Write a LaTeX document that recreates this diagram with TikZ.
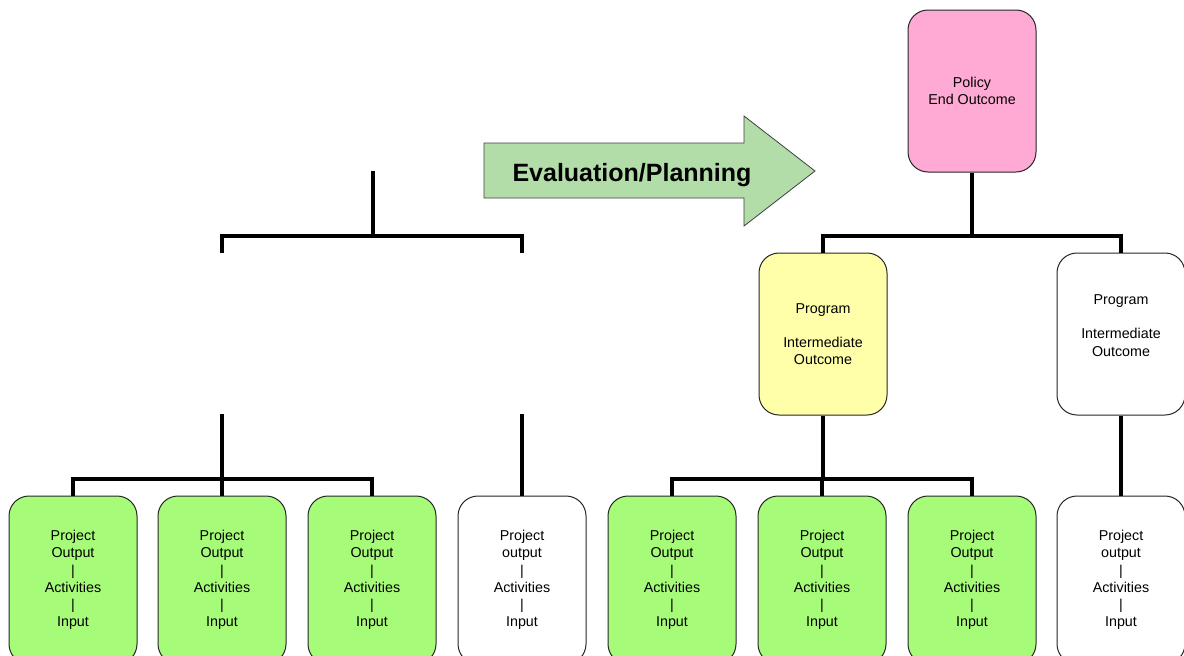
\documentclass[tikz,border=0pt]{standalone}
\usepackage{fontspec}
\setmainfont{Liberation Sans}
\definecolor{polpink}{RGB}{255,170,212}
\definecolor{progyellow}{RGB}{255,255,170}
\definecolor{projgreen}{RGB}{166,252,120}
\definecolor{evalgreen}{RGB}{178,221,168}
\begin{document}
\begin{tikzpicture}[x=1pt,y=-1pt]
        \tikzset{box/.style={draw=black!85,line width=1pt,rounded corners=20pt,
            minimum width=128pt,minimum height=162pt,align=center,
            font=\fontsize{14.3}{17.2}\selectfont},
          link/.style={line width=3.5pt},
          evalarrow/.style={draw=black!75,line width=0.8pt,fill=evalgreen}}
        \useasboundingbox (0,0) rectangle (1184,656);
        \draw[evalarrow] (484,143) -- (744,143) -- (744,116) -- (815,171)
          -- (744,226) -- (744,198) -- (484,198) -- cycle;
        \node[font=\fontsize{25}{30}\bfseries] (eval) at (632,175) {Evaluation/Planning};
        \node[box,fill=polpink] (pol) at (972,91) {Policy\\End Outcome};
        \node[box,fill=progyellow] (prog1) at (823,334) {Program\\\mbox{}\\Intermediate\\Outcome};
        \node[box,fill=white] (prog2) at (1121,334) {Program\\\mbox{}\\Intermediate\\Outcome\\\mbox{}};
        \foreach \i/\x/\c/\o in {1/73/projgreen/Output,2/222/projgreen/Output,
            3/372/projgreen/Output,4/522/white/output,5/672/projgreen/Output,
            6/822/projgreen/Output,7/972/projgreen/Output,8/1121/white/output}
          \node[box,fill=\c,minimum height=168pt] (p\i) at (\x,580) {Project\\\o\\|\\Activities\\|\\Input};
        \coordinate (g0) at (373,171);
        \coordinate (g1) at (222,253);
        \coordinate (g2) at (522,253);
        \coordinate (g3) at (222,414);
        \coordinate (g4) at (522,414);
        \draw[link] (g1) -- (g1|-0,236) -- (g2|-0,236) -- (g2);
        \draw[link] (g0) -- (g0|-0,236);
        \draw[link] (p1.north) -- (p1.north|-0,479) -- (p3.north|-0,479) -- (p3.north);
        \draw[link] (g3) -- (g3|-0,479) (p2.north) -- (p2.north|-0,479);
        \draw[link] (g4) -- (p4.north);
        \draw[link] (prog1.north) -- (prog1.north|-0,236) -- (prog2.north|-0,236) -- (prog2.north);
        \draw[link] (pol.south) -- (pol.south|-0,236);
        \draw[link] (p5.north) -- (p5.north|-0,479) -- (p7.north|-0,479) -- (p7.north);
        \draw[link] (prog1.south) -- (prog1.south|-0,479) (p6.north) -- (p6.north|-0,479);
        \draw[link] (prog2.south) -- (p8.north);
\end{tikzpicture}
\end{document}
